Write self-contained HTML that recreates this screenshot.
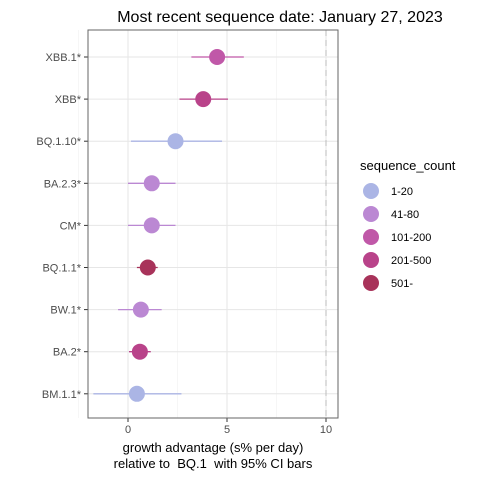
<!DOCTYPE html>
<html><head><meta charset="utf-8"><style>body{margin:0;background:#fff}svg{font-family:"Liberation Sans",sans-serif}</style></head>
<body>
<svg id="c" width="480" height="480" viewBox="0 0 480 480">
<text x="280" y="22" font-size="16" text-anchor="middle" fill="#000">Most recent sequence date: January 27, 2023</text>
<g id="plot"></g>
<text x="213" y="452" font-size="13" text-anchor="middle">growth advantage (s% per day)</text>
<text x="213" y="468" font-size="13" text-anchor="middle" style="white-space:pre">relative to  BQ.1  with 95% CI bars</text>
<g id="legend"></g>
</svg>
<script>
const categories=["XBB.1*","XBB*","BQ.1.10*","BA.2.3*","CM*","BQ.1.1*","BW.1*","BA.2*","BM.1.1*"];
const values=[4.5,3.8,2.4,1.2,1.2,1.0,0.65,0.6,0.45];
const lower=[3.2,2.6,0.15,0,0,0.45,-0.5,0.05,-1.75];
const upper=[5.85,5.05,4.75,2.4,2.4,1.5,1.7,1.15,2.7];
const countGroup=[2,3,0,1,1,4,1,3,0];
const legendLabels=["1-20","41-80","101-200","201-500","501-"];
const xTicks=[0,5,10];
const colors=["#abb5e5","#bb88d3","#c058a8","#b9438a","#a8335a"];
const NS="http://www.w3.org/2000/svg";
const L=88,R=338,T=30,B=418;
const x=v=>128+v*19.8;
const y=i=>57+i*42.1;
const plot=document.getElementById('plot');
function mk(t,a,p){const e=document.createElementNS(NS,t);for(const k in a)e.setAttribute(k,a[k]);(p||plot).appendChild(e);return e;}
let r=mk('rect',{x:L,y:T,width:R-L,height:B-T,fill:'#fff',stroke:'none'});


[-2.5,2.5,7.5].forEach(v=>{let g=mk('line',{x1:x(v),x2:x(v),y1:T,y2:B,stroke:'#f0f0f0','stroke-width':0.6});});
xTicks.forEach(v=>{let g=mk('line',{x1:x(v),x2:x(v),y1:T,y2:B,stroke:'#e6e6e6','stroke-width':1});
let tk=mk('line',{x1:x(v),x2:x(v),y1:B,y2:B+4,stroke:'#333'});
let tl=mk('text',{x:x(v),y:B+15,'font-size':11,'text-anchor':'middle',fill:'#4d4d4d'});tl.textContent=v;});
categories.forEach((c,i)=>{let g=mk('line',{x1:L,x2:R,y1:y(i),y2:y(i),stroke:'#e6e6e6'});});
let ref=mk('line',{x1:x(10),x2:x(10),y1:T,y2:B,stroke:'#bbb','stroke-dasharray':'6,4'});


categories.forEach((c,i)=>{
const col=colors[countGroup[i]];
let tk=mk('line',{x1:L-4,x2:L,y1:y(i),y2:y(i),stroke:'#333'});
let tl=mk('text',{x:L-7,y:y(i)+4,'font-size':11,'text-anchor':'end',fill:'#4d4d4d'});tl.textContent=c;
let e=mk('line',{x1:x(lower[i]),x2:x(upper[i]),y1:y(i),y2:y(i),stroke:col,'stroke-width':1.3});
let p=mk('circle',{cx:x(values[i]),cy:y(i),r:8,fill:col});
});
let fr=mk('rect',{x:L,y:T,width:R-L,height:B-T,fill:'none',stroke:'#666','stroke-width':1});


const lg=document.getElementById('legend');
let lt=mk('text',{x:360,y:170,'font-size':13},lg);lt.textContent='sequence_count';


legendLabels.forEach((s,i)=>{
const yy=191+i*23;
let c=mk('circle',{cx:371,cy:yy,r:8,fill:colors[i]},lg);
let t=mk('text',{x:391,y:yy+4,'font-size':11},lg);t.textContent=s;
});
</script>
</body></html>
